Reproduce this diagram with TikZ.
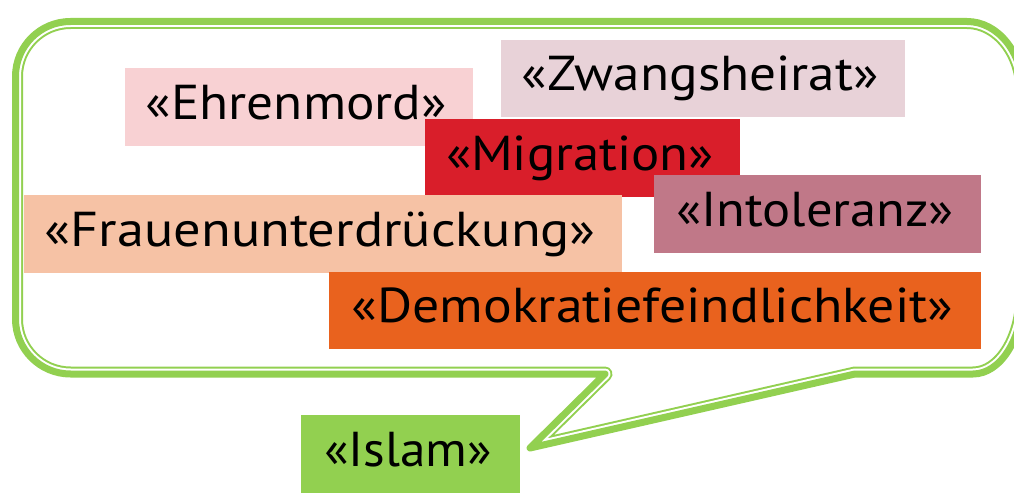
\documentclass[tikz,border=0pt]{standalone}
\usepackage{fontspec}
\newfontfamily\tagfont{PT Sans}
\definecolor{bubgreen}{RGB}{146,208,80}
\definecolor{cEhren}{RGB}{248,209,211}
\definecolor{cZwang}{RGB}{232,210,216}
\definecolor{cMigr}{RGB}{217,30,42}
\definecolor{cIntol}{RGB}{192,120,136}
\definecolor{cFrau}{RGB}{246,194,165}
\definecolor{cDemo}{RGB}{233,98,30}
\definecolor{cIslam}{RGB}{146,208,80}
\newcommand{\tagtext}[2]{\resizebox{#1}{\height}{#2}\kern5pt}
\tikzset{
  tagbox/.style={inner sep=0pt, outer sep=0pt, anchor=south west,
    text height=51pt, text depth=26.5pt,
    font=\tagfont\fontsize{49}{55}\selectfont, text=black}
}
\def\bubpath{(605,119) -- (530,45) -- (855,119) -- (973,119)
  arc[start angle=270,end angle=360,x radius=50,y radius=80] -- (1023,401.5)
  arc[start angle=0,end angle=90,x radius=56,y radius=70] -- (70.5,471.5)
  arc[start angle=90,end angle=180,radius=55] -- (15.5,174)
  arc[start angle=180,end angle=270,radius=55] -- cycle}
\begin{document}
\begin{tikzpicture}[x=1pt,y=1pt,line join=round]
\fill[white] (0,0) rectangle (1014,493);
\useasboundingbox (0,0) rectangle (1014,493);
% speech bubble with double border
\begin{scope}
  \clip \bubpath;
  \draw[bubgreen, line width=15pt] \bubpath;
  \draw[white, line width=11pt] \bubpath;
\end{scope}
\draw[bubgreen, line width=7pt] \bubpath;
% tags
\node[tagbox, fill=cEhren, minimum width=347.7pt] (ehren) at (125,347.3) {\tagtext{301pt}{«Ehrenmord»}};
\node[tagbox, fill=cZwang, minimum width=404.3pt] (zwang) at (500.7,375.7) {\tagtext{356.7pt}{«Zwangsheirat»}};
\node[tagbox, fill=cMigr, minimum width=315pt] (migr) at (425,296) {\tagtext{268pt}{«Migration»}};
\node[tagbox, fill=cIntol, minimum width=327pt] (intol) at (654,240.3) {\tagtext{278pt}{«Intoleranz»}};
\node[tagbox, fill=cFrau, minimum width=597.7pt] (frau) at (24,220.3) {\tagtext{551pt}{«Frauenunterdrückung»}};
\node[tagbox, fill=cDemo, minimum width=652pt] (demo) at (329,143.7) {\tagtext{601.7pt}{«Demokratiefeindlichkeit»}};
\node[tagbox, fill=cIslam, minimum width=219pt] (islam) at (301,0.3) {\tagtext{168pt}{«Islam»}};
\end{tikzpicture}
\end{document}
